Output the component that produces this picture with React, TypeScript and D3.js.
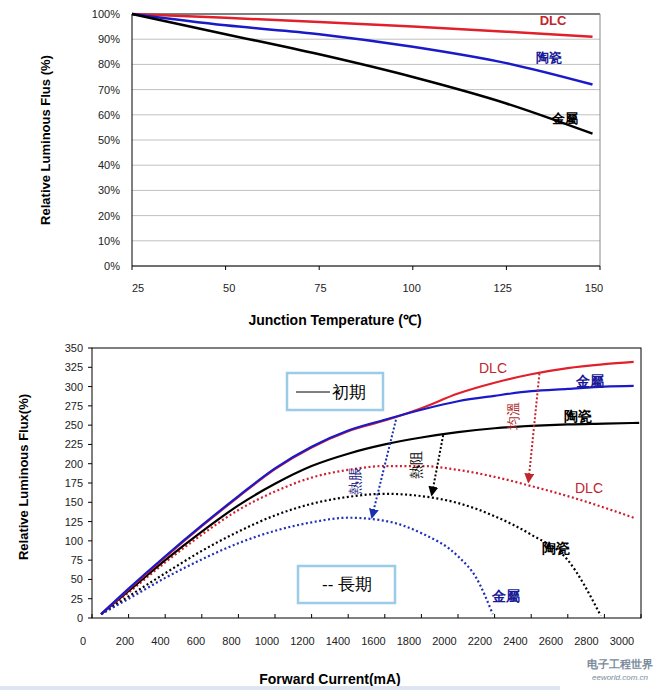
import React from "react";
import * as d3 from "d3";

type P = [number, number];
const tempTicks = [25, 50, 75, 100, 125, 150];
const pctTicks = [0, 10, 20, 30, 40, 50, 60, 70, 80, 90, 100];
const topDLC: P[] = [[25, 100], [50, 98.5], [75, 96.8], [100, 95], [125, 93], [148, 91]];
const topCeramic: P[] = [[25, 100], [50, 95.5], [75, 92], [100, 87], [125, 80.5], [148, 72]];
const topMetal: P[] = [[25, 100], [50, 92], [75, 84], [100, 75], [125, 64.5], [148, 52.5]];

const currentTicks = [0, 200, 400, 600, 800, 1000, 1200, 1400, 1600, 1800, 2000, 2200, 2400, 2600, 2800, 3000];
const fluxTicks = [0, 25, 50, 75, 100, 125, 150, 175, 200, 225, 250, 275, 300, 325, 350];
const initMetal: P[] = [[50, 5], [200, 38], [400, 80], [600, 120], [800, 158], [1000, 194], [1200, 222], [1400, 243], [1600, 257], [1800, 270], [2000, 281], [2200, 288], [2400, 294], [2600, 297], [2800, 300], [2960, 301]];
const initDLC: P[] = [[50, 5], [200, 37], [400, 79], [600, 119], [800, 157], [1000, 193], [1200, 221], [1400, 242], [1600, 256], [1800, 272], [2000, 291], [2200, 305], [2400, 316], [2600, 324], [2800, 329], [2960, 332]];
const initCeramic: P[] = [[50, 5], [200, 35], [400, 75], [600, 112], [800, 146], [1000, 174], [1200, 197], [1400, 213], [1600, 225], [1800, 234], [2000, 241], [2200, 246], [2400, 249], [2600, 251], [2800, 252], [2990, 253]];
const longDLC: P[] = [[50, 5], [200, 33], [400, 72], [600, 108], [800, 140], [1000, 164], [1200, 182], [1400, 192], [1600, 197], [1800, 197], [2000, 192], [2200, 183], [2400, 171], [2600, 158], [2800, 143], [2960, 130]];
const longCeramic: P[] = [[50, 5], [200, 28], [400, 58], [600, 87], [800, 112], [1000, 133], [1200, 148], [1400, 157], [1600, 161], [1800, 158], [2000, 149], [2200, 132], [2400, 108], [2600, 75], [2780, 3]];
const longMetal: P[] = [[50, 5], [200, 25], [400, 52], [600, 76], [800, 97], [1000, 113], [1200, 124], [1400, 130], [1600, 126], [1800, 110], [2000, 80], [2100, 52], [2190, 5]];
const arrows: { from: P; to: P; color: string; label: string; lab: P }[] = [
  { from: [1661, 257], to: [1530, 131], color: "#1a2fb0", label: "熱脹", lab: [1445, 178] },
  { from: [1919, 237], to: [1857, 160], color: "#000", label: "熱阻", lab: [1778, 198] },
  { from: [2445, 317], to: [2385, 177], color: "#c0272d", label: "均溫", lab: [2305, 262] },
];

const FONT = "Arial, 'Liberation Sans', sans-serif";

export default function App() {
  const tx = d3.scaleLinear().domain([25, 150]).range([132, 600]);
  const txLab = d3.scaleLinear().domain([25, 150]).range([138, 594]);
  const ty = d3.scaleLinear().domain([0, 100]).range([266, 14]);
  const tl = d3.line<P>().x(d => tx(d[0])).y(d => ty(d[1])).curve(d3.curveMonotoneX);

  const bx = d3.scaleLinear().domain([0, 3000]).range([92, 641]);
  const bxLab = d3.scaleLinear().domain([200, 3000]).range([125, 622]);
  const by = d3.scaleLinear().domain([0, 350]).range([618, 348]);
  const bl = d3.line<P>().x(d => bx(d[0])).y(d => by(d[1])).curve(d3.curveMonotoneX);

  const red = "#e0202a", blue = "#1a1ac8";
  return (
    <svg width={661} height={690} style={{ position: "absolute", left: 0, top: 0, background: "#fff" }} fontFamily={FONT}>
      <defs>
        {arrows.map((a, i) => (
          <marker key={i} id={"ah" + i} viewBox="0 0 10 10" refX="8" refY="5" markerWidth="5" markerHeight="5" orient="auto">
            <path d="M0,0L10,5L0,10z" fill={a.color} />
          </marker>
        ))}
      </defs>
      {/* TOP CHART */}
      {pctTicks.map(t => (
        <g key={t}>
          <line x1={tx(25)} x2={tx(150)} y1={ty(t)} y2={ty(t)} stroke={t === 100 ? "#000" : "#c0c0c0"} strokeWidth={1} />
          <text x={120} y={ty(t) + 4} fontSize={11} textAnchor="end" fill="#222">{t}%</text>
        </g>
      ))}
      <line x1={tx(150)} x2={tx(150)} y1={ty(0)} y2={ty(100)} stroke="#888" />
      <line x1={tx(25)} x2={tx(25)} y1={ty(0)} y2={ty(100)} stroke="#000" />
      <line x1={tx(25)} x2={tx(150)} y1={ty(0)} y2={ty(0)} stroke="#000" />
      {tempTicks.map(t => (
        <g key={t}>
          <line x1={tx(t)} x2={tx(t)} y1={ty(0)} y2={ty(0) + 4} stroke="#000" />
          <text x={txLab(t)} y={292} fontSize={11} textAnchor="middle" fill="#222">{t}</text>
        </g>
      ))}
      <path d={tl(topDLC)!} fill="none" stroke={red} strokeWidth={2.5} />
      <path d={tl(topCeramic)!} fill="none" stroke={blue} strokeWidth={2.5} />
      <path d={tl(topMetal)!} fill="none" stroke="#000" strokeWidth={2.5} />
      <text x={553} y={25} fontSize={13} fontWeight="bold" fill="#c0272d" textAnchor="middle">DLC</text>
      <text x={549} y={62} fontSize={13} fontWeight="bold" fill="#1a1a99" textAnchor="middle">陶瓷</text>
      <text x={565} y={123} fontSize={13} fontWeight="bold" fill="#000" textAnchor="middle">金屬</text>
      <text transform="translate(50,140) rotate(-90)" fontSize={13} fontWeight="bold" textAnchor="middle">Relative Luminous Flus (%)</text>
      <text x={335} y={325} fontSize={14} fontWeight="bold" textAnchor="middle">Junction Temperature (℃)</text>

      {/* BOTTOM CHART */}
      <rect x={bx(0)} y={by(350)} width={bx(3000) - bx(0)} height={by(0) - by(350)} fill="none" stroke="#000" />
      {fluxTicks.map(t => (
        <g key={t}>
          <line x1={bx(0) - 4} x2={bx(0)} y1={by(t)} y2={by(t)} stroke="#000" />
          <text x={83} y={by(t) + 4} fontSize={11} textAnchor="end" fill="#222">{t}</text>
        </g>
      ))}
      {currentTicks.map(t => (
        <g key={t}>
          <line x1={bx(t)} x2={bx(t)} y1={by(0)} y2={by(0) - 4} stroke="#000" />
          <text x={t === 0 ? 83 : bxLab(t)} y={645} fontSize={11} textAnchor="middle" fill="#222">{t}</text>
        </g>
      ))}
      <path d={bl(longDLC)!} fill="none" stroke="#d02030" strokeWidth={2.2} strokeDasharray="2,2.5" />
      <path d={bl(longCeramic)!} fill="none" stroke="#000" strokeWidth={2.2} strokeDasharray="2,2.5" />
      <path d={bl(longMetal)!} fill="none" stroke="#2030b8" strokeWidth={2.2} strokeDasharray="2,2.5" />
      <path d={bl(initCeramic)!} fill="none" stroke="#000" strokeWidth={2.2} />
      <path d={bl(initDLC)!} fill="none" stroke={red} strokeWidth={2.2} />
      <path d={bl(initMetal)!} fill="none" stroke={blue} strokeWidth={2.2} />
      {arrows.map((a, i) => (
        <g key={i}>
          <line x1={bx(a.from[0])} y1={by(a.from[1])} x2={bx(a.to[0])} y2={by(a.to[1])} stroke={a.color} strokeWidth={2} strokeDasharray="2,2" markerEnd={`url(#ah${i})`} />
          <text transform={`translate(${bx(a.lab[0])},${by(a.lab[1])}) rotate(-90)`} fontSize={14} textAnchor="middle" fill={a.color === "#000" ? "#000" : a.color === "#c0272d" ? "#b03030" : "#1a1a80"} dominantBaseline="middle">{a.label}</text>
        </g>
      ))}
      <rect x={287} y={373} width={96} height={37} fill="#fff" stroke="#9ccbe8" strokeWidth={2.5} />
      <line x1={296} x2={330} y1={392} y2={392} stroke="#000" strokeWidth={1} />
      <text x={332} y={398} fontSize={17} fill="#000">初期</text>
      <rect x={298} y={566} width={97} height={37} fill="#fff" stroke="#9ccbe8" strokeWidth={2.5} />
      <text x={322} y={590} fontSize={17} fill="#000">-- 長期</text>
      <text x={493} y={373} fontSize={14} fill="#c0272d" textAnchor="middle">DLC</text>
      <text x={590} y={386} fontSize={14} fontWeight="bold" fill="#1a1a99" textAnchor="middle">金屬</text>
      <text x={578} y={421} fontSize={14} fontWeight="bold" fill="#000" textAnchor="middle">陶瓷</text>
      <text x={589} y={493} fontSize={14} fill="#c0272d" textAnchor="middle">DLC</text>
      <text x={556} y={553} fontSize={14} fontWeight="bold" fill="#000" textAnchor="middle">陶瓷</text>
      <text x={506} y={601} fontSize={14} fontWeight="bold" fill="#1a1a99" textAnchor="middle">金屬</text>
      <text transform="translate(28,477) rotate(-90)" fontSize={13} fontWeight="bold" textAnchor="middle">Relative Luminous Flux(%)</text>
      <text x={330} y={684} fontSize={14} fontWeight="bold" textAnchor="middle">Forward Current(mA)</text>
      <rect x={566} y={655} width={95} height={30} fill="#fff" opacity={0.8} />
      <text x={620} y={668} fontSize={11} fill="#7a8a9a" textAnchor="middle" fontWeight="bold">电子工程世界</text>
      <text x={620} y={680} fontSize={8} fill="#7a8a9a" textAnchor="middle" fontStyle="italic">eeworld.com.cn</text>
      <rect x={0} y={686} width={560} height={4} fill="#dde6f0" />
    </svg>
  );
}
